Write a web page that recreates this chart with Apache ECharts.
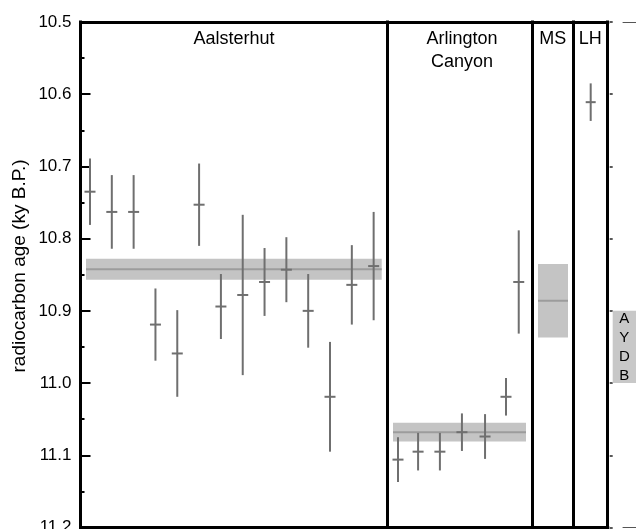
<!DOCTYPE html>
<html>
<head>
<meta charset="utf-8">
<script src="https://cdn.jsdelivr.net/npm/echarts@6/dist/echarts.min.js"></script>
<style>
html,body{margin:0;padding:0;background:#fff;}
#chart{width:636px;height:529px;}
</style>
</head>
<body>
<div id="chart"></div>
<script>
// ---- data ----
const yTicks = [10.5, 10.6, 10.7, 10.8, 10.9, 11.0, 11.1, 11.2];
const panelNames = ['Aalsterhut', 'Arlington\nCanyon', 'MS', 'LH'];

// Aalsterhut samples: position, age (ky B.P.), 1-sigma error
const aalX   = [1, 2, 3, 4, 5, 6, 7, 8, 9, 10, 11, 12, 13, 14];
const aalAge = [10.735, 10.763, 10.763, 10.919, 10.959, 10.753, 10.894, 10.878, 10.860, 10.843, 10.900, 11.019, 10.864, 10.838];
const aalErr = [0.046, 0.051, 0.051, 0.050, 0.060, 0.057, 0.045, 0.111, 0.047, 0.045, 0.051, 0.076, 0.055, 0.075];
const aalMean = [0.817, 14.37, 10.8425, 0.0145]; // x0, x1, mean, half-width

// Arlington Canyon samples
const arlX   = [1, 1.93, 2.94, 3.96, 5.03, 6, 6.59];
const arlAge = [11.106, 11.095, 11.095, 11.068, 11.074, 11.019, 10.860];
const arlErr = [0.031, 0.026, 0.026, 0.026, 0.031, 0.026, 0.0715];
const arlMean = [0.769, 6.926, 11.068, 0.013];

// MS (mean band only)
const msMean = [0.14, 0.877, 10.886, 0.051];

// LH single sample
const lhX = [0.51];
const lhAge = [10.611];
const lhErr = [0.026];

// YDB band on the (cropped) right-hand panel
const ydbRange = [10.9, 11.0];
const ydbLabel = 'A\nY\nD\nB';

// ---- styling / layout ----
const FONT = '"Liberation Sans", Arial, Helvetica, sans-serif';
const BAR = '#6f6f6f';
const BAND = '#c4c4c4';
const BANDLINE = '#9c9c9c';
const TOP = 22, H = 505.5;
const grids = [
  {left: 80.5, top: TOP, width: 307, height: H},
  {left: 387.5, top: TOP, width: 144.8, height: H},
  {left: 532.3, top: TOP, width: 40.7, height: H},
  {left: 573, top: TOP, width: 34.7, height: H},
  {left: 612.7, top: TOP, width: 23.3, height: H},
  {left: 623, top: TOP, width: 60, height: H}
].map(g => Object.assign({containLabel: false, outerBoundsMode: 'none'}, g));

const xRanges = [[0.565, 14.635], [0.514, 7.218], [0, 1], [0, 1], [0, 1], [0, 1]];

const frameLine = {show: true, onZero: false, lineStyle: {color: '#000', width: 3, cap: 'square'}};
const xAxes = [];
for (let i = 0; i < 4; i++) {
  ['bottom', 'top'].forEach(pos => xAxes.push({
    type: 'value', gridIndex: i, position: pos, min: xRanges[i][0], max: xRanges[i][1],
    axisLine: frameLine, axisTick: {show: false}, axisLabel: {show: false}, splitLine: {show: false}
  }));
}
// idx 8: grid 4 (YDB)
xAxes.push({type: 'value', gridIndex: 4, min: 0, max: 1, show: false});
// idx 9,10: grid 5 thin frame
['top', 'bottom'].forEach(pos => xAxes.push({
  type: 'value', gridIndex: 5, position: pos, min: 0, max: 1,
  axisLine: {show: true, onZero: false, lineStyle: {color: '#555', width: 1}},
  axisTick: {show: false}, axisLabel: {show: false}, splitLine: {show: false}
}));

const yBase = {type: 'value', min: yTicks[0], max: yTicks[yTicks.length - 1], interval: 0.1, inverse: true, splitLine: {show: false}};
const yAxes = [
  Object.assign({}, yBase, {
    gridIndex: 0, position: 'left',
    axisLine: frameLine,
    axisTick: {show: true, inside: true, length: 10, lineStyle: {color: '#000', width: 2}},
    minorTick: {show: true, splitNumber: 2, length: 4, lineStyle: {color: '#000', width: 2}},
    axisLabel: {show: true, margin: 9, color: '#000', fontFamily: FONT, fontSize: 17,
      formatter: v => v.toFixed(1)}
  }),
  Object.assign({}, yBase, {gridIndex: 1, position: 'left', axisLine: frameLine, axisTick: {show: false}, axisLabel: {show: false}}),
  Object.assign({}, yBase, {gridIndex: 2, position: 'left', axisLine: frameLine, axisTick: {show: false}, axisLabel: {show: false}}),
  Object.assign({}, yBase, {gridIndex: 3, position: 'left', axisLine: frameLine, axisTick: {show: false}, axisLabel: {show: false}}),
  Object.assign({}, yBase, {gridIndex: 3, position: 'right', axisLine: frameLine, axisTick: {show: false}, axisLabel: {show: false}}),
  Object.assign({}, yBase, {gridIndex: 4, position: 'right', axisLine: {show: false},
    axisTick: {show: true, inside: true, length: 3, lineStyle: {color: '#222', width: 1.5}}, axisLabel: {show: false}}),
  Object.assign({}, yBase, {gridIndex: 5, show: false})
];

function errItem(hw) {
  return function (params, api) {
    const x = api.value(0), y = api.value(1), e = api.value(2);
    const t = api.coord([x, y - e]), b = api.coord([x, y + e]), c = api.coord([x, y]);
    return {type: 'group', children: [
      {type: 'line', shape: {x1: t[0], y1: t[1], x2: b[0], y2: b[1]}, style: {stroke: BAR, lineWidth: 2}},
      {type: 'line', shape: {x1: c[0] - hw, y1: c[1], x2: c[0] + hw, y2: c[1]}, style: {stroke: BAR, lineWidth: 2}}
    ]};
  };
}
function bandItem(params, api) {
  const x0 = api.value(0), x1 = api.value(1), m = api.value(2), h = api.value(3);
  const p0 = api.coord([x0, m - h]), p1 = api.coord([x1, m + h]);
  const c0 = api.coord([x0, m]), c1 = api.coord([x1, m]);
  return {type: 'group', children: [
    {type: 'rect', shape: {x: p0[0], y: p0[1], width: p1[0] - p0[0], height: p1[1] - p0[1]}, style: {fill: BAND}},
    {type: 'line', shape: {x1: c0[0], y1: c0[1], x2: c1[0], y2: c1[1]}, style: {stroke: BANDLINE, lineWidth: 2}}
  ]};
}
function ydbItem(params, api) {
  const a = api.coord([0, api.value(0)]), b = api.coord([1.5, api.value(1)]);
  const mid = api.coord([0.5, (api.value(0) + api.value(1)) / 2]);
  return {type: 'group', children: [
    {type: 'rect', shape: {x: a[0], y: a[1], width: b[0] - a[0], height: b[1] - a[1]}, style: {fill: '#c8c8c8'}},
    {type: 'text', x: mid[0], y: mid[1], style: {text: ydbLabel, fill: '#000', font: '15px ' + FONT,
      align: 'center', verticalAlign: 'middle', lineHeight: 19}}
  ]};
}
const zip = (xs, ys, es) => xs.map((x, i) => [x, ys[i], es[i]]);

const series = [
  {type: 'custom', xAxisIndex: 0, yAxisIndex: 0, z: 1, renderItem: bandItem, data: [aalMean], encode: {x: [0, 1], y: [2]}, silent: true},
  {type: 'custom', xAxisIndex: 2, yAxisIndex: 1, z: 1, renderItem: bandItem, data: [arlMean], encode: {x: [0, 1], y: [2]}, silent: true},
  {type: 'custom', xAxisIndex: 4, yAxisIndex: 2, z: 1, renderItem: bandItem, data: [msMean], encode: {x: [0, 1], y: [2]}, silent: true},
  {type: 'custom', xAxisIndex: 0, yAxisIndex: 0, z: 3, renderItem: errItem(5.5), data: zip(aalX, aalAge, aalErr), encode: {x: 0, y: 1}, silent: true},
  {type: 'custom', xAxisIndex: 2, yAxisIndex: 1, z: 3, renderItem: errItem(5.5), data: zip(arlX, arlAge, arlErr), encode: {x: 0, y: 1}, silent: true},
  {type: 'custom', xAxisIndex: 6, yAxisIndex: 3, z: 3, renderItem: errItem(5), data: zip(lhX, lhAge, lhErr), encode: {x: 0, y: 1}, silent: true},
  {type: 'custom', xAxisIndex: 8, yAxisIndex: 5, z: 1, renderItem: ydbItem, data: [ydbRange], encode: {y: [0, 1]}, silent: true, clip: false}
];

const graphic = [];
panelNames.forEach((name, i) => {
  const g = grids[i];
  graphic.push({type: 'text', x: g.left + g.width / 2 + (i === 1 ? 2 : 0), y: 28,
    style: {text: name, font: '18px ' + FONT, fill: '#000', align: 'center', verticalAlign: 'top', lineHeight: 23}});
});
graphic.push({type: 'text', x: 20, y: 266, rotation: Math.PI / 2,
  style: {text: 'radiocarbon age (ky B.P.)', font: '19px ' + FONT, fill: '#000', align: 'center', verticalAlign: 'middle'}});

const chart = echarts.init(document.getElementById('chart'), null, {renderer: 'canvas'});
chart.setOption({
  animation: false,
  backgroundColor: '#fff',
  grid: grids,
  xAxis: xAxes,
  yAxis: yAxes,
  series: series,
  graphic: graphic
});
</script>
</body>
</html>
